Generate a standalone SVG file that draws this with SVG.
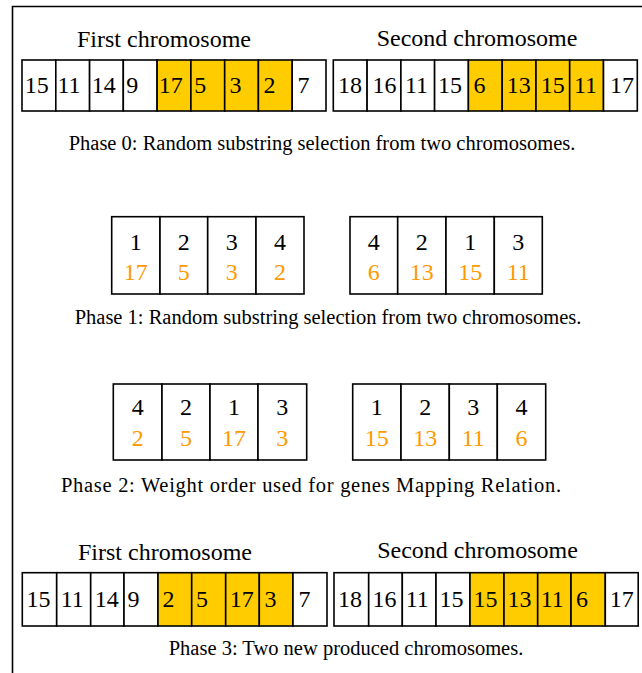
<svg xmlns="http://www.w3.org/2000/svg" width="642" height="673" viewBox="0 0 642 673">
  <style>
    .cell { fill: #ffffff; stroke: #000000; stroke-width: 1.6; }
    .hi { fill: #ffcc00; stroke: #000000; stroke-width: 1.6; }
    .frame { fill: none; stroke: #000000; stroke-width: 1.6; }
    text { font-family: "Liberation Serif", "Times New Roman", serif; fill: #000000; }
    .num { font-size: 24px; }
    .ctr { font-size: 24px; text-anchor: middle; }
    .w { font-size: 24px; text-anchor: middle; fill: #ff9900; }
    .title { font-size: 24px; text-anchor: middle; }
    .cap { font-size: 20.5px; text-anchor: middle; }
  </style>

  <!-- outer frame edges -->
  <g id="frame">
    <path class="frame" d="M12.5 673 V6.5 H642"/>
  </g>

  <!-- Phase 0: parent chromosomes with selected substrings -->
  <g id="phase0">
    <text class="title" x="164" y="47">First chromosome</text>
    <text class="title" x="477" y="46">Second chromosome</text>
    <g id="p0-first">
      <rect class="cell" x="22" y="60" width="33.8" height="51"/>
      <rect class="cell" x="55.8" y="60" width="33.8" height="51"/>
      <rect class="cell" x="89.6" y="60" width="33.7" height="51"/>
      <rect class="cell" x="123.3" y="60" width="33.8" height="51"/>
      <rect class="hi" x="157.1" y="60" width="33.8" height="51"/>
      <rect class="hi" x="190.9" y="60" width="33.8" height="51"/>
      <rect class="hi" x="224.7" y="60" width="33.7" height="51"/>
      <rect class="hi" x="258.4" y="60" width="33.8" height="51"/>
      <rect class="cell" x="292.2" y="60" width="33.8" height="51"/>
      <text class="num" x="24.7" y="93">15</text>
      <text class="num" x="57.4" y="93">11</text>
      <text class="num" x="91.7" y="93">14</text>
      <text class="num" x="126.2" y="93">9</text>
      <text class="num" x="158.7" y="93">17</text>
      <text class="num" x="194.3" y="93">5</text>
      <text class="num" x="229.5" y="93">3</text>
      <text class="num" x="263.6" y="93">2</text>
      <text class="num" x="297.5" y="93">7</text>
    </g>
    <g id="p0-second">
      <rect class="cell" x="333.3" y="60" width="33.8" height="51"/>
      <rect class="cell" x="367.1" y="60" width="33.8" height="51"/>
      <rect class="cell" x="400.9" y="60" width="33.7" height="51"/>
      <rect class="cell" x="434.6" y="60" width="33.8" height="51"/>
      <rect class="hi" x="468.4" y="60" width="33.8" height="51"/>
      <rect class="hi" x="502.2" y="60" width="33.8" height="51"/>
      <rect class="hi" x="536" y="60" width="33.7" height="51"/>
      <rect class="hi" x="569.7" y="60" width="33.8" height="51"/>
      <rect class="cell" x="603.5" y="60" width="33.8" height="51"/>
      <text class="num" x="338" y="93">18</text>
      <text class="num" x="372.4" y="93">16</text>
      <text class="num" x="405" y="93">11</text>
      <text class="num" x="438" y="93">15</text>
      <text class="num" x="473.5" y="93">6</text>
      <text class="num" x="506.7" y="93">13</text>
      <text class="num" x="540.7" y="93">15</text>
      <text class="num" x="574" y="93">11</text>
      <text class="num" x="610" y="93">17</text>
    </g>
    <text class="cap" x="322" y="150">Phase 0: Random substring selection from two chromosomes.</text>
  </g>

  <!-- Phase 1: selected genes with their weights -->
  <g id="phase1">
    <g id="p1-left">
      <rect class="cell" x="111.7" y="216.7" width="48.3" height="77.3"/>
      <rect class="cell" x="160" y="216.7" width="47.7" height="77.3"/>
      <rect class="cell" x="207.7" y="216.7" width="48.3" height="77.3"/>
      <rect class="cell" x="256" y="216.7" width="48" height="77.3"/>
      <text class="ctr" x="135.8" y="249.5">1</text>
      <text class="ctr" x="183.8" y="249.5">2</text>
      <text class="ctr" x="231.8" y="249.5">3</text>
      <text class="ctr" x="280" y="249.5">4</text>
      <text class="w" x="135.8" y="280">17</text>
      <text class="w" x="183.8" y="280">5</text>
      <text class="w" x="231.8" y="280">3</text>
      <text class="w" x="280" y="280">2</text>
    </g>
    <g id="p1-right">
      <rect class="cell" x="350" y="216.7" width="47.7" height="77.3"/>
      <rect class="cell" x="397.7" y="216.7" width="48.3" height="77.3"/>
      <rect class="cell" x="446" y="216.7" width="48.3" height="77.3"/>
      <rect class="cell" x="494.3" y="216.7" width="48" height="77.3"/>
      <text class="ctr" x="373.8" y="249.5">4</text>
      <text class="ctr" x="421.8" y="249.5">2</text>
      <text class="ctr" x="470.2" y="249.5">1</text>
      <text class="ctr" x="518.3" y="249.5">3</text>
      <text class="w" x="373.8" y="280">6</text>
      <text class="w" x="421.8" y="280">13</text>
      <text class="w" x="470.2" y="280">15</text>
      <text class="w" x="518.3" y="280">11</text>
    </g>
    <text class="cap" x="328" y="324">Phase 1: Random substring selection from two chromosomes.</text>
  </g>

  <!-- Phase 2: genes reordered by weight -->
  <g id="phase2">
    <g id="p2-left">
      <rect class="cell" x="113.3" y="384" width="48.7" height="76"/>
      <rect class="cell" x="162" y="384" width="48" height="76"/>
      <rect class="cell" x="210" y="384" width="48" height="76"/>
      <rect class="cell" x="258" y="384" width="48.7" height="76"/>
      <text class="ctr" x="137.7" y="415">4</text>
      <text class="ctr" x="186" y="415">2</text>
      <text class="ctr" x="234" y="415">1</text>
      <text class="ctr" x="282.3" y="415">3</text>
      <text class="w" x="137.7" y="446">2</text>
      <text class="w" x="186" y="446">5</text>
      <text class="w" x="234" y="446">17</text>
      <text class="w" x="282.3" y="446">3</text>
    </g>
    <g id="p2-right">
      <rect class="cell" x="352.7" y="384" width="48.3" height="76"/>
      <rect class="cell" x="401" y="384" width="48.3" height="76"/>
      <rect class="cell" x="449.3" y="384" width="48" height="76"/>
      <rect class="cell" x="497.3" y="384" width="48.4" height="76"/>
      <text class="ctr" x="376.8" y="415">1</text>
      <text class="ctr" x="425.2" y="415">2</text>
      <text class="ctr" x="473.3" y="415">3</text>
      <text class="ctr" x="521.5" y="415">4</text>
      <text class="w" x="376.8" y="446">15</text>
      <text class="w" x="425.2" y="446">13</text>
      <text class="w" x="473.3" y="446">11</text>
      <text class="w" x="521.5" y="446">6</text>
    </g>
    <text class="cap" x="311" y="492" textLength="500" lengthAdjust="spacing">Phase 2: Weight order used for genes Mapping Relation.</text>
  </g>

  <!-- Phase 3: offspring chromosomes -->
  <g id="phase3">
    <text class="title" x="165" y="560">First chromosome</text>
    <text class="title" x="477.5" y="558">Second chromosome</text>
    <g id="p3-first">
      <rect class="cell" x="22.3" y="572.7" width="34.4" height="53.3"/>
      <rect class="cell" x="56.7" y="572.7" width="34" height="53.3"/>
      <rect class="cell" x="90.7" y="572.7" width="33.3" height="53.3"/>
      <rect class="cell" x="124" y="572.7" width="34" height="53.3"/>
      <rect class="hi" x="158" y="572.7" width="33.7" height="53.3"/>
      <rect class="hi" x="191.7" y="572.7" width="34" height="53.3"/>
      <rect class="hi" x="225.7" y="572.7" width="33.6" height="53.3"/>
      <rect class="hi" x="259.3" y="572.7" width="33.7" height="53.3"/>
      <rect class="cell" x="293" y="572.7" width="34" height="53.3"/>
      <text class="num" x="26.4" y="606.7">15</text>
      <text class="num" x="60.7" y="606.7">11</text>
      <text class="num" x="94.7" y="606.7">14</text>
      <text class="num" x="127.5" y="606.7">9</text>
      <text class="num" x="162.5" y="606.7">2</text>
      <text class="num" x="196" y="606.7">5</text>
      <text class="num" x="229.7" y="606.7">17</text>
      <text class="num" x="264.5" y="606.7">3</text>
      <text class="num" x="298.5" y="606.7">7</text>
    </g>
    <g id="p3-second">
      <rect class="cell" x="334" y="572.7" width="34.7" height="53.3"/>
      <rect class="cell" x="368.7" y="572.7" width="33.6" height="53.3"/>
      <rect class="cell" x="402.3" y="572.7" width="33.7" height="53.3"/>
      <rect class="cell" x="436" y="572.7" width="34" height="53.3"/>
      <rect class="hi" x="470" y="572.7" width="34" height="53.3"/>
      <rect class="hi" x="504" y="572.7" width="33.7" height="53.3"/>
      <rect class="hi" x="537.7" y="572.7" width="33.3" height="53.3"/>
      <rect class="hi" x="571" y="572.7" width="34.3" height="53.3"/>
      <rect class="cell" x="605.3" y="572.7" width="32.9" height="53.3"/>
      <text class="num" x="338" y="606.7">18</text>
      <text class="num" x="372.4" y="606.7">16</text>
      <text class="num" x="405.7" y="606.7">11</text>
      <text class="num" x="439.4" y="606.7">15</text>
      <text class="num" x="473.4" y="606.7">15</text>
      <text class="num" x="507.4" y="606.7">13</text>
      <text class="num" x="540.7" y="606.7">11</text>
      <text class="num" x="576" y="606.7">6</text>
      <text class="num" x="609.7" y="606.7">17</text>
    </g>
    <text class="cap" x="346" y="655">Phase 3: Two new produced chromosomes.</text>
  </g>
</svg>
